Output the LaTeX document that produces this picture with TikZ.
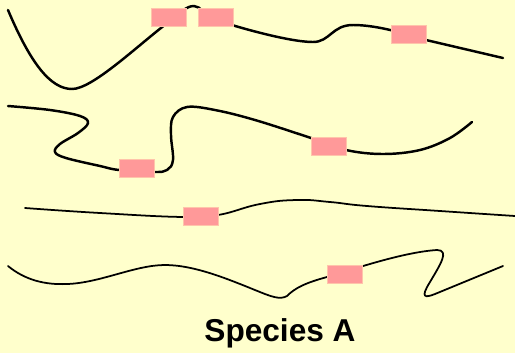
\documentclass[tikz,border=0pt]{standalone}
\usepackage{fontspec}
\setmainfont{Liberation Sans}
\usetikzlibrary{positioning}
\definecolor{paper}{RGB}{255,255,204}
\definecolor{genefill}{RGB}{255,153,153}
\definecolor{geneedge}{RGB}{255,196,170}

\begin{document}
\begin{tikzpicture}[x=0.02cm, y=-0.02cm,
        gene/.style={rectangle, fill=genefill, draw=geneedge, line width=0.4pt, minimum width=0.7cm, minimum height=0.36cm, inner sep=0pt},
        strand/.style={line width=1.4pt, line cap=round, smooth, tension=0.8}]
        \fill[paper] (0,0) rectangle (515,353);
        \useasboundingbox (0,0) rectangle (515,353);
        \draw[line width=1.4pt, line cap=round] (8,10) .. controls (30,62) and (50,89) .. (72,89)
            .. controls (92,89) and (135,48) .. (166,24)
            .. controls (180,13) and (186,6) .. (194,6)
            .. controls (201,6) and (203,15) .. (216,20)
            .. controls (240,28) and (290,42) .. (313,42)
            .. controls (330,42) and (332,25) .. (353,25)
            .. controls (375,25) and (400,32) .. (426,40) -- (503,58);
        \draw[strand, tension=0.6] plot coordinates {(8,106) (50,110) (80,116) (88,123) (78,133) (60,144) (55,152) (66,158) (100,166) (119,170) (154,172) (167,170) (173,160) (171,135) (173,117) (187,107) (215,110) (255,120) (311,138) (346,150) (383,154) (420,150) (450,138) (472,122)};
        \draw[strand, line width=1pt] plot coordinates {(25,208) (100,213) (183,217) (218,215) (260,204) (297,200) (330,202) (367,206) (440,211) (515,216)};
        \draw[line width=1pt, line cap=round] (8,266) .. controls (25,280) and (45,285) .. (67,284)
            .. controls (100,283) and (135,265) .. (165,265)
            .. controls (195,265) and (230,280) .. (255,290)
            .. controls (272,297) and (280,300) .. (287,296)
            .. controls (295,288) and (305,283) .. (327,277)
            .. controls (360,267) and (405,252) .. (437,250)
            .. controls (450,250) and (440,265) .. (430,282)
            .. controls (420,298) and (425,298) .. (435,294)
            -- (503,266);
        \node[gene] (g1) at (168.5,17.5) {};
        \node[gene] (g2) at (216,17.5) {};
        \node[gene] (g3) at (408.5,34) {};
        \node[gene] (g4) at (136.5,168.5) {};
        \node[gene] (g5) at (328.5,146.5) {};
        \node[gene] (g6) at (200.5,216) {};
        \node[gene] (g7) at (344.5,274) {};
        \node[font=\bfseries\fontsize{18}{20}\selectfont] (species) at (280,333) {Species A};
    \end{tikzpicture}
\end{document}
